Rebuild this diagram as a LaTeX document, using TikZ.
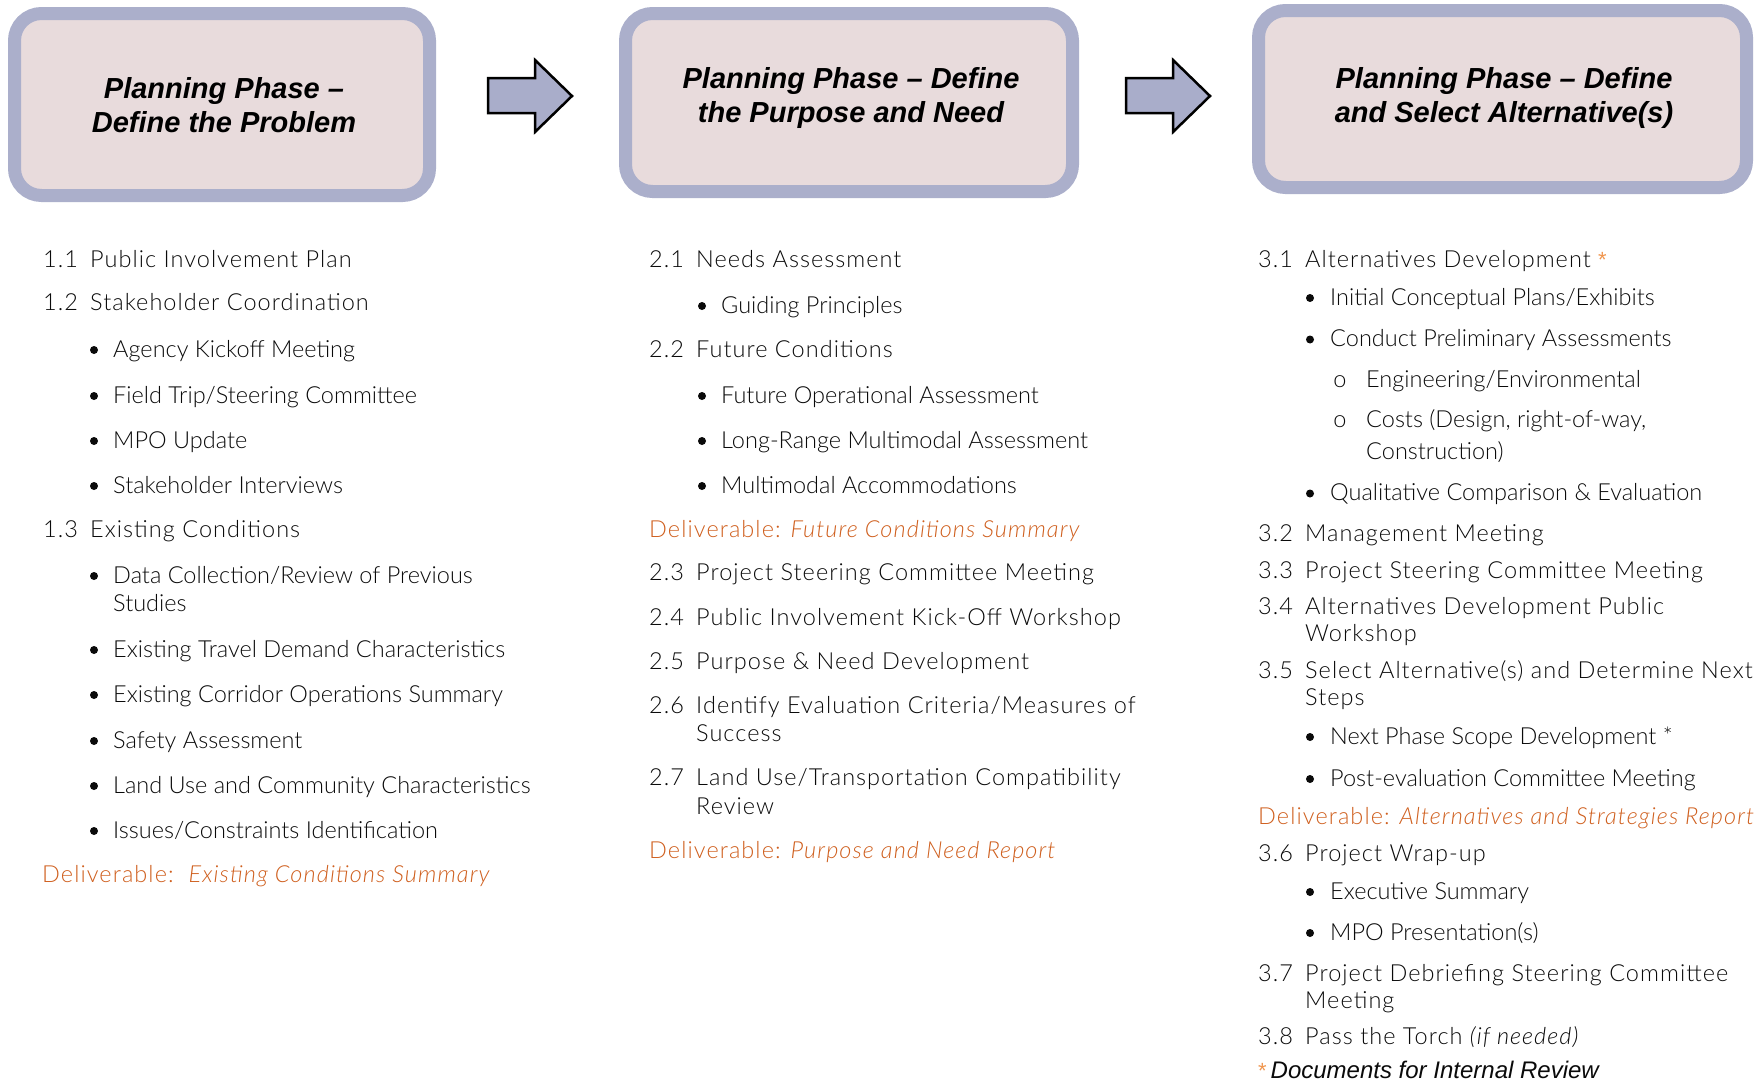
\documentclass[tikz,border=0pt]{standalone}
\usepackage{fontspec}
\setmainfont{Lato}[UprightFont={* Light},ItalicFont={* Light Italic}]
\newfontfamily\numfont{Lato}[UprightFont={* Light},ItalicFont={* Light Italic},LetterSpace=4.4]
\newfontfamily\dlvfont{Lato}[UprightFont={* Light},ItalicFont={* Light Italic},LetterSpace=4.6]
\newfontfamily\hdfont{Liberation Sans}
\definecolor{boxfill}{HTML}{E8DBDC}
\definecolor{boxline}{HTML}{ABAFCB}
\definecolor{arrfill}{HTML}{A9ADCA}
\definecolor{txt}{HTML}{0A0A0A}
\definecolor{deliv}{HTML}{CF5F1E}
\definecolor{star}{HTML}{F0964F}
\newcommand{\nb}[1]{\makebox[47pt][l]{#1}}
\newcommand{\orstar}{{\hdfont\fontsize{22}{28}\selectfont\textcolor{star}{*}}}
\begin{document}
\begin{tikzpicture}[x=1pt,y=-1pt,
  phasebox/.style={draw=boxline, line width=13pt, fill=boxfill, rounded corners=27pt, inner sep=0pt},
  hdtext/.style={anchor=base, inner sep=0pt, font=\hdfont\bfseries\itshape\fontsize{29}{34}\selectfont},
  blockarrow/.style={draw=black, line width=2.5pt, fill=arrfill, line join=miter},
  itm/.style={anchor=base west, inner sep=0pt, text=txt, font=\fontsize{23.5}{28}\selectfont},
  num/.style={anchor=base west, inner sep=0pt, text=txt, font=\numfont\fontsize{23.5}{28}\selectfont},
  dot/.style={circle, fill=txt, inner sep=0pt, minimum size=8pt},
  hollow/.style={anchor=base, inner sep=0pt, text=txt, font=\fontsize{23.5}{28}\selectfont},
  dlv/.style={anchor=base west, inner sep=0pt, text=deliv, font=\dlvfont\fontsize{23.5}{28}\selectfont},
]
\useasboundingbox (0,0) rectangle (1764,1082);

% header boxes
\node[phasebox, minimum width=415pt, minimum height=182pt] (box1) at (222,104.5) {};
\node[phasebox, minimum width=447pt, minimum height=178pt] (box2) at (849,102.5) {};
\node[phasebox, minimum width=488pt, minimum height=177pt] (box3) at (1502.5,99) {};
\node[hdtext] (h1a) at (224,98) {Planning Phase –};
\node[hdtext] (h1b) at (224,132) {Define the Problem};
\node[hdtext] (h2a) at (851,88) {Planning Phase – Define};
\node[hdtext] (h2b) at (851,122) {the Purpose and Need};
\node[hdtext] (h3a) at (1504,88) {Planning Phase – Define};
\node[hdtext] (h3b) at (1504,122) {and Select Alternative(s)};

% block arrows
\draw[blockarrow] (488,78) -- (535,78) -- (535,60) -- (572,96) -- (535,132) -- (535,113) -- (488,113) -- cycle;
\draw[blockarrow] (1126,78) -- (1173,78) -- (1173,60) -- (1210,96) -- (1173,132) -- (1173,113) -- (1126,113) -- cycle;

% column 1
\node[num] (c11) at (43,267) {\nb{1.1}Public Involvement Plan};
\node[num] (c12) at (43,310) {\nb{1.2}Stakeholder Coordination};
\node[dot] (d1a) at (94,350) {};
\node[itm] (c12a) at (113,357) {Agency Kickoff Meeting};
\node[dot] (d1b) at (94,396) {};
\node[itm] (c12b) at (113,403) {Field Trip/Steering Committee};
\node[dot] (d1c) at (94,441) {};
\node[itm] (c12c) at (113,448) {MPO Update};
\node[dot] (d1d) at (94,486) {};
\node[itm] (c12d) at (113,493) {Stakeholder Interviews};
\node[num] (c13) at (43,537) {\nb{1.3}Existing Conditions};
\node[dot] (d1e) at (94,576) {};
\node[itm] (c13a) at (113,583) {Data Collection/Review of Previous};
\node[itm] (c13a2) at (113,611) {Studies};
\node[dot] (d1f) at (94,650) {};
\node[itm] (c13b) at (113,657) {Existing Travel Demand Characteristics};
\node[dot] (d1g) at (94,695) {};
\node[itm] (c13c) at (113,702) {Existing Corridor Operations Summary};
\node[dot] (d1h) at (94,741) {};
\node[itm] (c13d) at (113,748) {Safety Assessment};
\node[dot] (d1i) at (94,786) {};
\node[itm] (c13e) at (113,793) {Land Use and Community Characteristics};
\node[dot] (d1j) at (94,831) {};
\node[itm] (c13f) at (113,838) {Issues/Constraints Identification};
\node[dlv] (dl1) at (42,882) {Deliverable:\ \ \textit{Existing Conditions Summary}};

% column 2
\node[num] (c21) at (649,267) {\nb{2.1}Needs Assessment};
\node[dot] (d2a) at (702,306) {};
\node[itm] (c21a) at (721,313) {Guiding Principles};
\node[num] (c22) at (649,357) {\nb{2.2}Future Conditions};
\node[dot] (d2b) at (702,396) {};
\node[itm] (c22a) at (721,403) {Future Operational Assessment};
\node[dot] (d2c) at (702,441) {};
\node[itm] (c22b) at (721,448) {Long-Range Multimodal Assessment};
\node[dot] (d2d) at (702,486) {};
\node[itm] (c22c) at (721,493) {Multimodal Accommodations};
\node[dlv] (dl2a) at (649,537) {Deliverable: \textit{Future Conditions Summary}};
\node[num] (c23) at (649,580.5) {\nb{2.3}Project Steering Committee Meeting};
\node[num] (c24) at (649,625.5) {\nb{2.4}Public Involvement Kick-Off Workshop};
\node[num] (c25) at (649,669) {\nb{2.5}Purpose \& Need Development};
\node[num] (c26) at (649,713) {\nb{2.6}Identify Evaluation Criteria/Measures of};
\node[num] (c26b) at (696,741) {Success};
\node[num] (c27) at (649,785) {\nb{2.7}Land Use/Transportation Compatibility};
\node[num] (c27b) at (696,814.5) {Review};
\node[dlv] (dl2b) at (649,858) {Deliverable: \textit{Purpose and Need Report}};

% column 3
\node[num] (c31) at (1258,267) {\nb{3.1}Alternatives Development \orstar};
\node[dot] (d3a) at (1310,298) {};
\node[itm] (c31a) at (1330,305) {Initial Conceptual Plans/Exhibits};
\node[dot] (d3b) at (1310,339.5) {};
\node[itm] (c31b) at (1330,346.5) {Conduct Preliminary Assessments};
\node[hollow] (o3a) at (1340,387) {o};
\node[itm] (c31b1) at (1366,387) {Engineering/Environmental};
\node[hollow] (o3b) at (1340,427.5) {o};
\node[itm] (c31b2) at (1366,427.5) {Costs (Design, right-of-way,};
\node[itm] (c31b2b) at (1366,459) {Construction)};
\node[dot] (d3c) at (1310,493.5) {};
\node[itm] (c31c) at (1330,500.5) {Qualitative Comparison \& Evaluation};
\node[num] (c32) at (1258,541) {\nb{3.2}Management Meeting};
\node[num] (c33) at (1258,578) {\nb{3.3}Project Steering Committee Meeting};
\node[num] (c34) at (1258,614) {\nb{3.4}Alternatives Development Public};
\node[num] (c34b) at (1305,641) {Workshop};
\node[num] (c35) at (1258,678) {\nb{3.5}Select Alternative(s) and Determine Next};
\node[num] (c35b) at (1305,705) {Steps};
\node[dot] (d3d) at (1310,737) {};
\node[itm] (c35a) at (1330,744) {Next Phase Scope Development *};
\node[dot] (d3e) at (1310,779) {};
\node[itm] (c35c) at (1330,786) {Post-evaluation Committee Meeting};
\node[dlv] (dl3) at (1258,824) {Deliverable: \textit{Alternatives and Strategies Report}};
\node[num] (c36) at (1258,861) {\nb{3.6}Project Wrap-up};
\node[dot] (d3f) at (1310,892) {};
\node[itm] (c36a) at (1330,899) {Executive Summary};
\node[dot] (d3g) at (1310,933) {};
\node[itm] (c36b) at (1330,940) {MPO Presentation(s)};
\node[num] (c37) at (1258,981) {\nb{3.7}Project Debriefing Steering Committee};
\node[num] (c37b) at (1305,1008) {Meeting};
\node[num] (c38) at (1258,1044) {\nb{3.8}Pass the Torch \textit{(if needed)}};
\node[itm] (note) at (1258,1078) {\orstar\,{\hdfont\itshape\fontsize{24}{28}\selectfont Documents for Internal Review}};
\end{tikzpicture}
\end{document}
